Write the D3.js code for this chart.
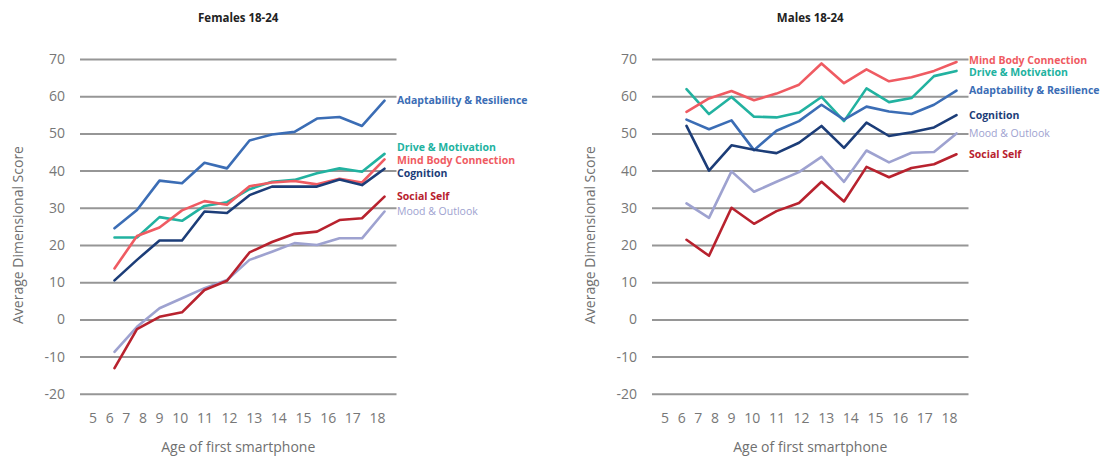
<!DOCTYPE html>
<html><head><meta charset="utf-8">
<script src="https://cdn.jsdelivr.net/npm/d3@7"></script>
<style>
body{margin:0;background:#fff}
svg{display:block;font-family:"Open Sans",Roboto,sans-serif}
</style>
</head><body>
<svg id="chart" width="1115" height="456"></svg>
<script>
const ages = [6, 7, 8, 9, 10, 11, 12, 13, 14, 15, 16, 17, 18];
const xTickLabels = ["5","6","7","8","9","10","11","12","13","14","15","16","17","18"];
const yTicks = [-20, -10, 0, 10, 20, 30, 40, 50, 60, 70];
const panelTitles = ["Females 18-24", "Males 18-24"];
const xAxisTitle = "Age of first smartphone";
const yAxisTitle = "Average Dimensional Score";

const seriesNames = ["Mood & Outlook", "Social Self", "Drive & Motivation", "Mind Body Connection", "Adaptability & Resilience", "Cognition"];
const seriesColors = ["#9ea2d0", "#b8222e", "#22b2a0", "#ef5b62", "#3b6db5", "#1c3d78"];
const labelWeights = [400, 700, 700, 700, 700, 700];

const femaleMood        = [-8.7, -2.0, 3.0, 5.7, 8.4, 10.6, 16.0, 18.2, 20.5, 20.0, 21.8, 21.8, 29.0];
const femaleSocial      = [-13.1, -2.6, 0.7, 1.9, 7.9, 10.4, 18.0, 20.8, 23.0, 23.6, 26.7, 27.2, 33.0];
const femaleDrive       = [22.0, 22.0, 27.5, 26.5, 30.5, 31.5, 35.0, 37.0, 37.5, 39.3, 40.6, 39.7, 44.5];
const femaleMindBody    = [13.7, 22.4, 24.7, 29.3, 31.8, 30.8, 35.8, 36.8, 37.2, 36.3, 37.8, 36.8, 43.0];
const femaleAdaptability= [24.5, 29.4, 37.3, 36.6, 42.1, 40.6, 48.1, 49.7, 50.4, 54.0, 54.4, 52.0, 58.8];
const femaleCognition   = [10.5, 16.0, 21.2, 21.2, 29.0, 28.6, 33.4, 35.7, 35.7, 35.7, 37.6, 36.1, 40.5];

const maleMood          = [31.2, 27.3, 39.8, 34.3, 37.0, 39.6, 43.7, 37.0, 45.4, 42.2, 44.8, 45.0, 50.0];
const maleSocial        = [21.4, 17.1, 30.0, 25.7, 29.1, 31.3, 37.0, 31.7, 41.0, 38.2, 40.7, 41.7, 44.4];
const maleDrive         = [61.9, 55.2, 59.8, 54.5, 54.3, 55.6, 59.8, 53.3, 62.1, 58.4, 59.5, 65.4, 66.8];
const maleMindBody      = [55.8, 59.4, 61.4, 58.9, 60.7, 63.1, 68.8, 63.5, 67.2, 64.0, 65.1, 66.8, 69.2];
const maleAdaptability  = [53.7, 51.1, 53.5, 45.5, 50.7, 53.3, 57.7, 53.7, 57.2, 55.9, 55.2, 57.7, 61.5];
const maleCognition     = [52.0, 40.0, 46.8, 45.6, 44.7, 47.5, 52.0, 46.1, 52.9, 49.3, 50.3, 51.6, 54.9];

const femaleSeries = [femaleMood, femaleSocial, femaleDrive, femaleMindBody, femaleAdaptability, femaleCognition];
const maleSeries   = [maleMood, maleSocial, maleDrive, maleMindBody, maleAdaptability, maleCognition];

const svg = d3.select("#chart");
const FONT = "'Open Sans', Roboto, sans-serif";

function drawPanel(offsetX, title, seriesValues, labelGap) {
  const g = svg.append("g").attr("transform", `translate(${offsetX},0)`);
  const gridL = 80, gridR = 396.5;
  const x = d3.scaleLinear().domain([5, 18]).range([92, 384.5]);
  const y = d3.scaleLinear().domain([-20, 70]).range([393.8, 59]);

  // y axis + gridlines
  const ya = g.append("g").attr("transform", `translate(${gridL},0)`)
    .call(d3.axisLeft(y).tickValues(yTicks).tickSize(-(gridR - gridL)).tickPadding(15).tickFormat(d => String(d)));
  ya.select(".domain").remove();
  ya.selectAll(".tick line").attr("stroke", "#969696").attr("stroke-width", 2);
  ya.selectAll(".tick text").attr("fill", "#777").attr("font-size", 14).attr("font-family", FONT);

  // x tick labels laid out as a spaced row
  const rowStart = x(5) - 3, rowEnd = x(18) + 1;
  const labels = g.append("g").attr("font-size", 14).attr("font-family", FONT).attr("fill", "#777");
  const nodes = xTickLabels.map(t => labels.append("text").attr("y", 423).attr("text-anchor", "start").text(t));
  const widths = nodes.map(n => n.node().getComputedTextLength());
  const totalW = d3.sum(widths);
  const gap = (rowEnd - rowStart - totalW) / (xTickLabels.length - 1);
  let cx = rowStart;
  nodes.forEach((n, i) => { n.attr("x", cx); cx += widths[i] + gap; });

  // lines
  const line = d3.line().x((d, i) => x(ages[i])).y(d => y(d)).curve(d3.curveLinear);
  seriesValues.forEach((vals, si) => {
    g.append("path").datum(vals)
      .attr("fill", "none").attr("stroke", seriesColors[si]).attr("stroke-width", 2.6)
      .attr("stroke-linejoin", "round").attr("stroke-linecap", "round")
      .attr("d", line);
  });

  // end labels with simple collision avoidance
  const items = seriesValues.map((vals, si) => ({ si, y: y(vals[vals.length - 1]) }));
  items.sort((a, b) => a.y - b.y);
  for (let it = 0; it < 100; it++) {
    for (let k = 0; k < items.length - 1; k++) {
      const a = items[k], b = items[k + 1];
      const d = b.y - a.y;
      if (d < labelGap) { const p = (labelGap - d) / 2; a.y -= p; b.y += p; }
    }
  }
  items.forEach(itm => {
    g.append("text").attr("x", x(18) + 12.5).attr("y", itm.y).attr("dy", "0.35em")
      .attr("font-size", 10.5).attr("font-weight", labelWeights[itm.si]).attr("font-family", FONT)
      .attr("fill", seriesColors[itm.si]).text(seriesNames[itm.si]);
  });

  // titles
  g.append("text").attr("x", (gridL + gridR) / 2).attr("y", 22).attr("text-anchor", "middle")
    .attr("font-size", 11.5).attr("font-weight", 700).attr("fill", "#222").attr("font-family", FONT).text(title);
  g.append("text").attr("x", (gridL + gridR) / 2).attr("y", 452).attr("text-anchor", "middle")
    .attr("font-size", 14).attr("fill", "#707070").attr("font-family", FONT).text(xAxisTitle);
  g.append("text").attr("transform", `translate(23,235) rotate(-90)`).attr("text-anchor", "middle")
    .attr("font-size", 14).attr("fill", "#707070").attr("font-family", FONT).text(yAxisTitle);
}

drawPanel(0, panelTitles[0], femaleSeries, 13);
drawPanel(572, panelTitles[1], maleSeries, 12);
</script>
</body></html>
